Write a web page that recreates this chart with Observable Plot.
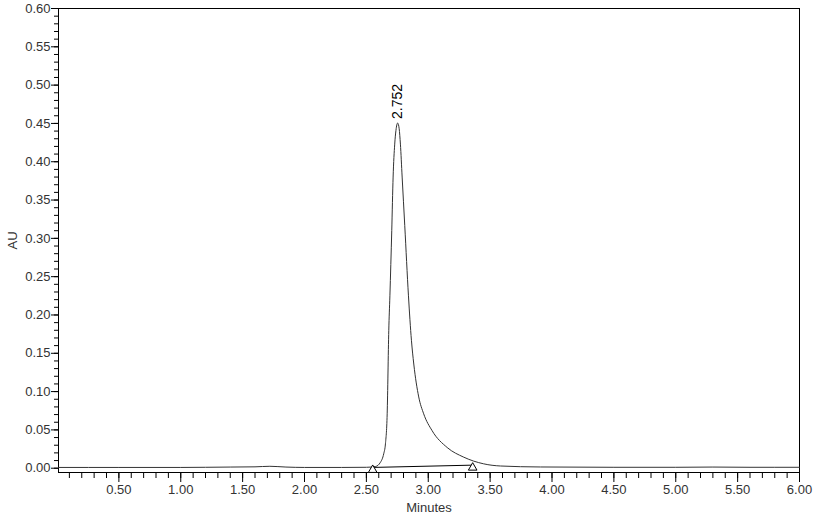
<!DOCTYPE html>
<html><head><meta charset="utf-8">
<script src="https://cdn.jsdelivr.net/npm/d3@7"></script>
<script src="https://cdn.jsdelivr.net/npm/@observablehq/plot@0.6"></script>
<style>body{margin:0;background:#fff}</style>
</head><body><div id="chart"></div>
<script>
// Chromatogram trace (retention time in minutes, absorbance AU)
const minutes = [0.012, 0.5, 1.0, 1.2, 1.4, 1.6, 1.72, 1.85, 2.0, 2.3, 2.5, 2.573, 2.614, 2.640, 2.654, 2.668, 2.681, 2.690, 2.705, 2.716, 2.729, 2.739, 2.753, 2.765, 2.775, 2.789, 2.810, 2.840, 2.864, 2.883, 2.923, 2.963, 3.031, 3.153, 3.287, 3.448, 3.583, 3.907, 4.5, 5.0, 5.3, 5.6, 6.0];
const au      = [0.001, 0.001, 0.001, 0.0012, 0.0015, 0.0018, 0.0025, 0.0015, 0.001, 0.001, 0.0012, 0.0022, 0.0078, 0.0188, 0.0318, 0.071, 0.180, 0.225, 0.310, 0.380, 0.423, 0.441, 0.4505, 0.443, 0.423, 0.380, 0.317, 0.225, 0.167, 0.136, 0.093, 0.071, 0.049, 0.027, 0.0144, 0.0057, 0.0029, 0.0016, 0.0012, 0.0012, 0.0015, 0.0012, 0.0012];

// Peak annotation
const peakTimes = [2.752];
const peakHeights = [0.4505];
const peakLabels = ["2.752"];

// Integration baseline (start / end markers)
const baseTimes = [2.551, 3.359];
const baseAU = [0.001, 0.004];

// Axis ticks
const xTickValues = [0.5, 1.0, 1.5, 2.0, 2.5, 3.0, 3.5, 4.0, 4.5, 5.0, 5.5, 6.0];
const xTickLabels = ["0.50", "1.00", "1.50", "2.00", "2.50", "3.00", "3.50", "4.00", "4.50", "5.00", "5.50", "6.00"];
const yTickValues = [0, 0.05, 0.10, 0.15, 0.20, 0.25, 0.30, 0.35, 0.40, 0.45, 0.50, 0.55, 0.60];
const yTickLabels = ["0.00", "0.05", "0.10", "0.15", "0.20", "0.25", "0.30", "0.35", "0.40", "0.45", "0.50", "0.55", "0.60"];
const xMinorTicks = d3.range(1, 61).map(i => i / 10);
const yMinorTicks = d3.range(0, 61).map(i => i / 100);

const trace = minutes.map((t, i) => ({t, v: au[i]}));
const peaks = peakTimes.map((t, i) => ({t, v: peakHeights[i], label: peakLabels[i]}));
const base = baseTimes.map((t, i) => ({t, v: baseAU[i]}));

const chart = Plot.plot({
  width: 834,
  height: 516,
  marginLeft: 58,
  marginRight: 35,
  marginTop: 8,
  marginBottom: 44,
  style: {fontFamily: "'Liberation Sans', Arial, sans-serif", fontSize: "13px", color: "#333", background: "#fff"},
  x: {domain: [0.012, 6]},
  y: {domain: [-0.0056, 0.6]},
  marks: [
    Plot.axisX(xMinorTicks, {tickSize: 6, tickFormat: () => "", label: null, stroke: "black"}),
    Plot.axisX(xTickValues, {tickSize: 10, tickPadding: 2, stroke: "black",
      tickFormat: d => xTickLabels[xTickValues.indexOf(d)],
      label: "Minutes", labelAnchor: "center", labelArrow: "none", labelOffset: 39}),
    Plot.axisY(yMinorTicks, {tickSize: 4, tickFormat: () => "", label: null, stroke: "black"}),
    Plot.axisY(yTickValues, {tickSize: 7, tickPadding: 1, stroke: "black",
      tickFormat: d => yTickLabels[yTickValues.indexOf(d)],
      label: "AU", labelAnchor: "center", labelArrow: "none", labelOffset: 51}),
    Plot.frame({stroke: "black"}),
    Plot.line(trace, {x: "t", y: "v", stroke: "#333", strokeWidth: 1, curve: "monotone-x"}),
    Plot.line(base, {x: "t", y: "v", stroke: "black", strokeWidth: 1}),
    Plot.dot(base, {x: "t", y: "v", symbol: "triangle", r: 3.2, stroke: "black", fill: "white", strokeWidth: 1, dy: 2.5}),
    Plot.text(peaks, {x: "t", y: "v", text: "label", rotate: -90, textAnchor: "start", dy: -4, fontSize: 14, fill: "black"})
  ]
});
document.getElementById("chart").appendChild(chart);
</script>
</body></html>
